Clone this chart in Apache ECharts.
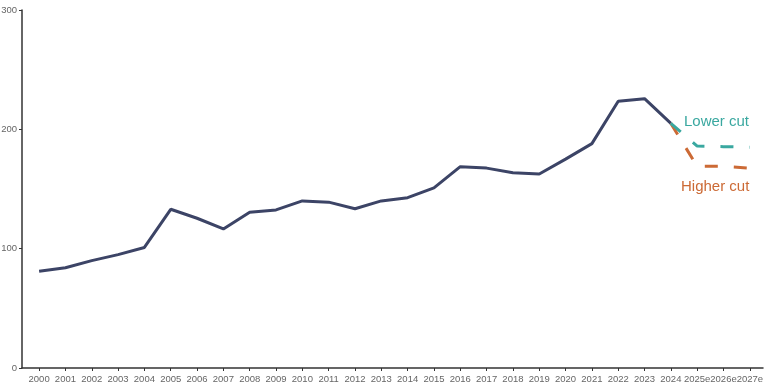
<!DOCTYPE html>
<html>
<head>
<meta charset="utf-8">
<script src="https://cdn.jsdelivr.net/npm/echarts@6/dist/echarts.min.js"></script>
<style>html,body{margin:0;padding:0;background:#fff}#c{width:765px;height:391px}</style>
</head>
<body>
<div id="c"></div>
<script>
var categories = ['2000','2001','2002','2003','2004','2005','2006','2007','2008','2009','2010','2011','2012','2013','2014','2015','2016','2017','2018','2019','2020','2021','2022','2023','2024','2025e','2026e','2027e'];
var actual = [81,84,90,95,101,133,125.5,116.5,130.5,132.5,140,139,133.5,140,142.7,151,168.7,167.5,163.7,162.6,175,188,223.5,225.7,205];
var lowerCut = [205,186,185.5,185];
var higherCut = [205,169,169,167.5];
var yTicks = [0,100,200,300];

function pairs(vals, start){ return vals.map(function(v,i){ return [start+i, v]; }); }
var idx = categories.map(function(c,i){return i;});

var chart = echarts.init(document.getElementById('c'), null, {renderer:'canvas'});
chart.setOption({
  backgroundColor:'#ffffff',
  animation:false,
  grid:{left:22,right:2,top:10,bottom:23,containLabel:false,outerBoundsMode:'none'},
  xAxis:{
    type:'value', min:-0.65, max:27.5,
    splitLine:{show:false},
    axisLine:{show:true,onZero:false,lineStyle:{color:'#333',width:1.5}},
    axisTick:{show:true,customValues:idx,length:3,lineStyle:{color:'#333'}},
    axisLabel:{show:true,customValues:idx,hideOverlap:false,showMinLabel:true,showMaxLabel:true,color:'#666',fontSize:9.5,fontFamily:'Liberation Sans, Arial, sans-serif',margin:6,
      formatter:function(v){return categories[Math.round(v)];}}
  },
  yAxis:{
    type:'value', min:0, max:300, interval:100,
    splitLine:{show:false},
    axisLine:{show:true,onZero:false,lineStyle:{color:'#333',width:1.5}},
    axisTick:{show:true,length:3,lineStyle:{color:'#333'}},
    axisLabel:{color:'#666',fontSize:9.5,fontFamily:'Liberation Sans, Arial, sans-serif',margin:5,
      formatter:function(v){return yTicks.indexOf(v)>=0?String(v):'';}}
  },
  series:[
    {type:'line',name:'Actual',data:pairs(actual,0),symbol:'none',lineStyle:{color:'#3c4466',width:3},z:3},
    {type:'line',name:'Higher cut',data:pairs(higherCut,24),symbol:'none',lineStyle:{color:'#cc6a35',width:3,type:[13,16],cap:'butt'},z:4},
    {type:'line',name:'Lower cut',data:pairs(lowerCut,24),symbol:'none',lineStyle:{color:'#3aa8a0',width:3,type:[13,16],cap:'butt'},z:5}
  ],
  graphic:[
    {type:'text',left:684,top:114,style:{text:'Lower cut',fill:'#3aa8a0',fontSize:15,fontFamily:'Liberation Sans, Arial, sans-serif'}},
    {type:'text',left:681,top:179,style:{text:'Higher cut',fill:'#cc6a35',fontSize:15,fontFamily:'Liberation Sans, Arial, sans-serif'}}
  ]
});
</script>
</body>
</html>
